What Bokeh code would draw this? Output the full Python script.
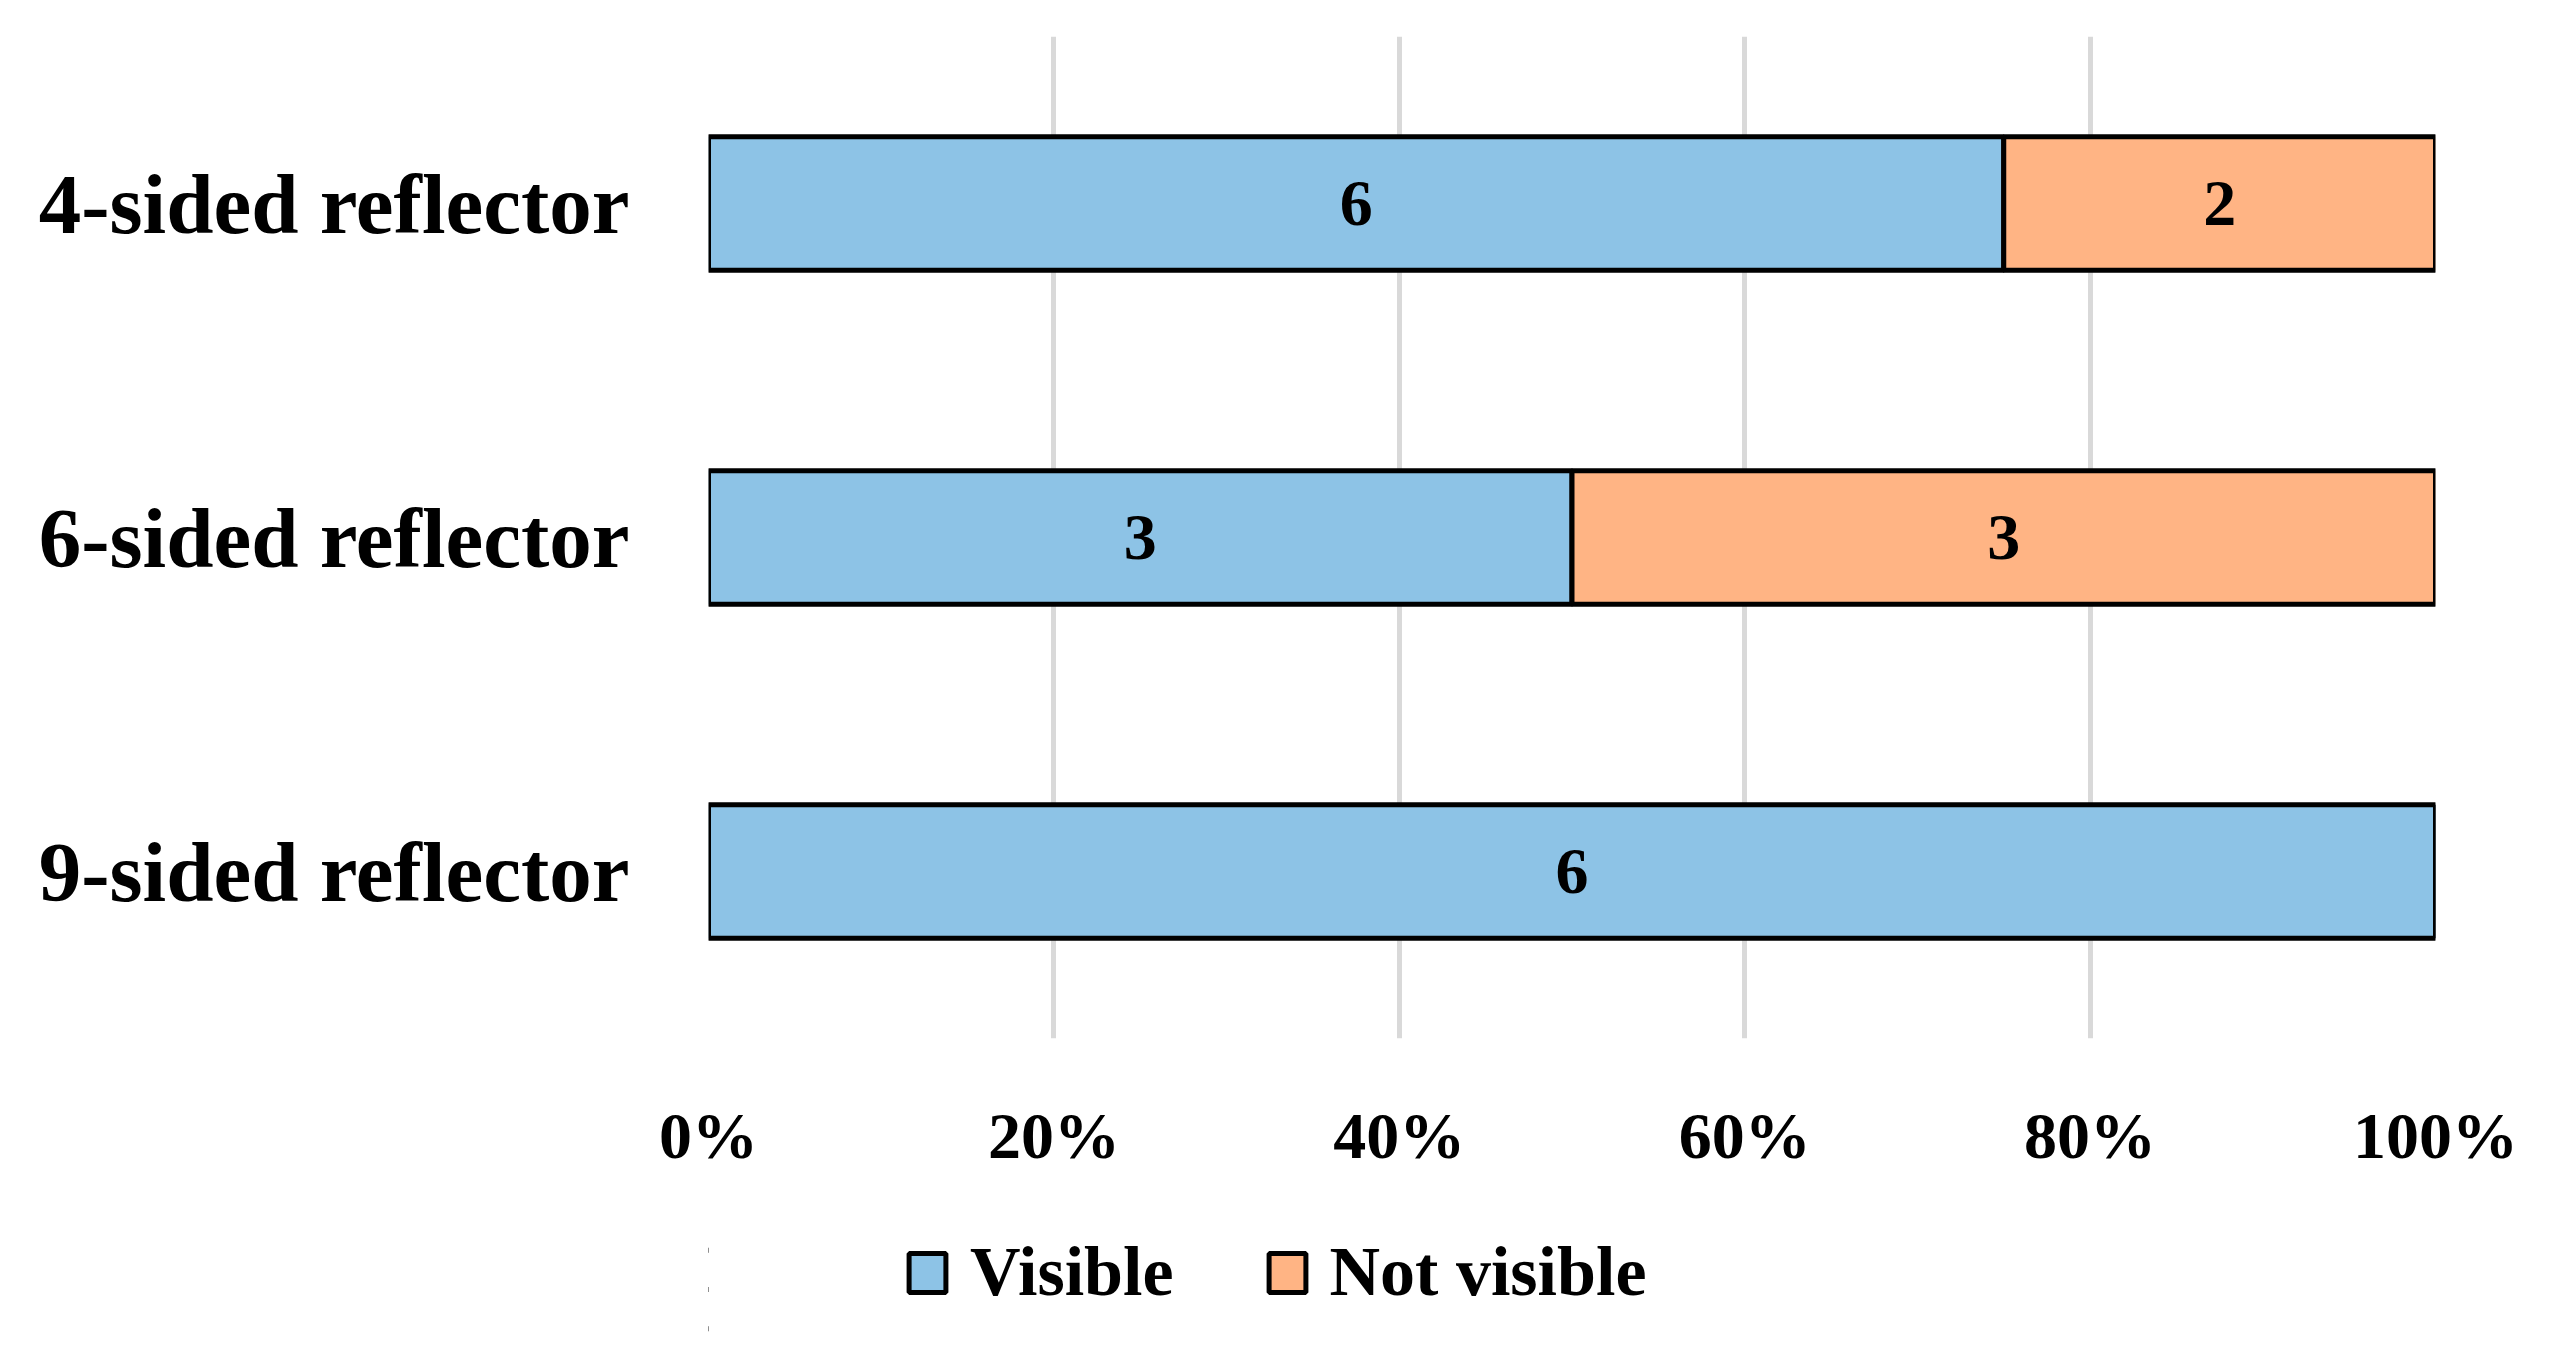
from bokeh.plotting import figure
from bokeh.layouts import column
from bokeh.models import ColumnDataSource, FactorRange, Range1d, NumeralTickFormatter, FixedTicker, Legend, LegendItem
from bokeh.core.properties import value
from bokeh.embed import file_html
from bokeh.resources import INLINE

categories = ["4-sided reflector", "6-sided reflector", "9-sided reflector"]
visible = [6, 3, 6]
not_visible = [2, 3, 0]
series_names = ["Visible", "Not visible"]
colors = ["#8DC3E6", "#FFB484"]
x_ticks = [0, 0.2, 0.4, 0.6, 0.8, 1.0]

FONT = "Liberation Serif"

totals = [a + b for a, b in zip(visible, not_visible)]
vis_pct = [a / t for a, t in zip(visible, totals)]
not_pct = [b / t for b, t in zip(not_visible, totals)]

src = ColumnDataSource(dict(cat=categories, Visible=vis_pct, NotVisible=not_pct))

W, H1, H2 = 2549, 1230, 118
p = figure(width=W, height=H1, output_backend="svg", toolbar_location=None,
           y_range=FactorRange(*categories[::-1], range_padding=0),
           x_range=Range1d(0, 1),
           min_border_left=708, min_border_right=114, min_border_top=36, min_border_bottom=192)
p.outline_line_color = None

r = p.hbar_stack(["Visible", "NotVisible"], y="cat", height=0.4, source=src,
                 color=colors, line_color="black", line_width=5)

# labels
lab_x, lab_y, lab_t = [], [], []
for c, a, b, pa, pb in zip(categories, visible, not_visible, vis_pct, not_pct):
    if a:
        lab_x.append(pa / 2); lab_y.append(c); lab_t.append(str(a))
    if b:
        lab_x.append(pa + pb / 2); lab_y.append(c); lab_t.append(str(b))
p.text(x=lab_x, y=lab_y, text=lab_t, text_align="center", text_baseline="middle",
       text_font=value(FONT), text_font_style="bold", text_font_size="66px", text_color="black")

p.xaxis.ticker = FixedTicker(ticks=x_ticks)
p.xaxis.formatter = NumeralTickFormatter(format="0%")
for ax in (p.xaxis, p.yaxis):
    ax.axis_line_color = None
    ax.major_tick_line_color = None
    ax.minor_tick_line_color = None
    ax.major_label_text_font = FONT
    ax.major_label_text_font_style = "bold"
    ax.major_label_text_color = "black"
p.xaxis.major_label_text_font_size = "66px"
p.xaxis.major_label_standoff = 54
p.yaxis.major_label_text_font_size = "85px"
p.yaxis.major_label_standoff = 73

p.xgrid.ticker = FixedTicker(ticks=x_ticks)
p.xgrid.grid_line_color = "#D9D9D9"
p.xgrid.grid_line_width = 5
p.ygrid.grid_line_color = None

# legend strip: same series styles, bars collapsed and out of view, only the legend shows
p2 = figure(width=W, height=H2, output_backend="svg", toolbar_location=None,
            y_range=FactorRange(*categories[::-1]), x_range=Range1d(5, 6),
            x_axis_type=None, y_axis_type=None,
            min_border_left=0, min_border_right=0, min_border_top=0, min_border_bottom=0)
p2.outline_line_color = None
p2.xgrid.grid_line_color = None
p2.ygrid.grid_line_color = None
r2 = p2.hbar_stack(["Visible", "NotVisible"], y="cat", height=0.0, source=src,
                   color=colors, line_color="black", line_width=5)

legend = Legend(items=[LegendItem(label=series_names[0], renderers=[r2[0]]),
                       LegendItem(label=series_names[1], renderers=[r2[1]])],
                orientation="horizontal", location=(196, 36),
                label_text_font=FONT, label_text_font_style="bold", label_text_font_size="70px",
                label_text_color="black",
                glyph_width=46, glyph_height=49, label_standoff=20, spacing=90,
                padding=0, margin=0, border_line_color=None, background_fill_alpha=0)
p2.add_layout(legend, "center")

layout = column(p, p2, spacing=0)
open("out.html", "w").write(file_html(layout, INLINE))
